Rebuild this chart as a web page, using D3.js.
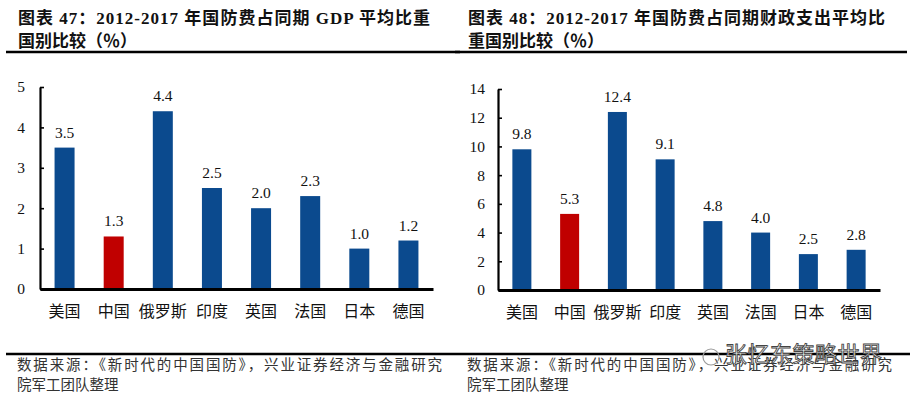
<!DOCTYPE html>
<html>
<head>
<meta charset="utf-8">
<script src="https://cdn.jsdelivr.net/npm/d3@7"></script>
<style>
html,body{margin:0;padding:0;background:#fff;}
svg{display:block;}
</style>
</head>
<body>
<svg id="c" width="915" height="398"></svg>
<script>
const categories = ["美国","中国","俄罗斯","印度","英国","法国","日本","德国"];
const gdpShare = [3.5,1.3,4.4,2.5,2.0,2.3,1.0,1.2];
const fiscalShare = [9.8,5.3,12.4,9.1,4.8,4.0,2.5,2.8];
const gdpTicks = [0,1,2,3,4,5];
const fiscalTicks = [0,2,4,6,8,10,12,14];
const highlight = "中国";
const title1 = ["图表 47：2012-2017 年国防费占同期 GDP 平均比重","国别比较（％）"];
const title2 = ["图表 48：2012-2017 年国防费占同期财政支出平均比","重国别比较（％）"];
const source = ["数据来源：《新时代的中国国防》，兴业证券经济与金融研究","院军工团队整理"];
const watermark = "张忆东策略世界";

const BLUE = "#0b4a8e", RED = "#c00000";
const svg = d3.select("#c");

function panel(opt){
  const g = svg.append("g");
  opt.title.forEach((t,i)=>{
    const tx = g.append("text").attr("x",opt.tx).attr("y",i===0?24:47)
      .attr("font-family","'Liberation Serif','Noto Sans CJK SC',serif")
      .attr("font-weight","bold").attr("font-size",17).attr("fill","#111").text(t);
    if(i===0) tx.attr("textLength",opt.tlen).attr("lengthAdjust","spacing");
  });
  g.append("line").attr("x1",opt.r0).attr("x2",opt.r1).attr("y1",52).attr("y2",52)
    .attr("stroke","#000").attr("stroke-width",2.5);

  const x = d3.scaleBand().domain(categories).range([opt.ax0,opt.ax1]).paddingInner(0.6).paddingOuter(0.3);
  const y = d3.scaleLinear().domain(opt.domain).range([opt.y0,opt.y1]);

  g.selectAll("rect.bar").data(opt.values).enter().append("rect")
    .attr("x",(d,i)=>x(categories[i])+x.bandwidth()/2-opt.bw/2)
    .attr("width",opt.bw)
    .attr("y",d=>y(d)).attr("height",d=>y(0)-y(d))
    .attr("fill",(d,i)=>categories[i]===highlight?RED:BLUE);

  g.selectAll("text.val").data(opt.values).enter().append("text")
    .attr("x",(d,i)=>x(categories[i])+x.bandwidth()/2)
    .attr("y",d=>y(d)-10)
    .attr("text-anchor","middle")
    .attr("font-family","'Liberation Serif',serif").attr("font-size",15.5).attr("fill","#111")
    .text(d=>d.toFixed(1));

  const ya = d3.axisLeft(y).tickValues(opt.ticks).tickSizeInner(-4).tickSizeOuter(0).tickPadding(opt.tp).tickFormat(d3.format("d"));
  const yg = g.append("g").attr("transform",`translate(${opt.ax0},0)`).call(ya);
  yg.select(".domain").attr("stroke","#000").attr("stroke-width",2.2);
  yg.selectAll(".tick line").attr("stroke","#000").attr("stroke-width",1.6);
  yg.selectAll(".tick text").attr("font-family","'Liberation Serif',serif").attr("font-size",15.5).attr("fill","#111");

  const xa = d3.axisBottom(x).tickSize(0).tickPadding(17);
  const xg = g.append("g").attr("transform",`translate(0,${opt.y0})`).call(xa);
  xg.select(".domain").attr("stroke","#000").attr("stroke-width",2.8);
  xg.selectAll(".tick text").attr("font-family","'Noto Sans CJK SC',sans-serif").attr("font-size",16).attr("fill","#111");

  source.forEach((t,i)=>{
    const st = g.append("text").attr("x",opt.tx-1).attr("y",i===0?370:390)
      .attr("font-family","'Noto Sans CJK SC',sans-serif").attr("font-size",14.5)
      .attr("fill","#333").text(t);
    if(i===0) st.attr("textLength",425).attr("lengthAdjust","spacing");
  });
}

panel({tx:18,tlen:412,title:title1,r0:6,r1:460,ax0:40,ax1:433,y0:289,y1:87,domain:[0,5],
       values:gdpShare,ticks:gdpTicks,bw:20,tp:15});
panel({tx:468,tlen:417,title:title2,r0:455,r1:907,ax0:498,ax1:880,y0:290,y1:89,domain:[0,14],
       values:fiscalShare,ticks:fiscalTicks,bw:19,tp:13});

svg.append("line").attr("x1",6).attr("x2",910).attr("y1",354).attr("y2",354)
  .attr("stroke","#000").attr("stroke-width",2.5);

const wm = svg.append("g");
wm.append("circle").attr("cx",711).attr("cy",357).attr("r",8).attr("fill","none").attr("stroke","#999").attr("stroke-width",1.2);
wm.append("text").attr("x",725).attr("y",362).attr("font-family","'Noto Sans CJK SC',sans-serif")
  .attr("font-size",22).attr("fill","#fff").attr("stroke","#444").attr("stroke-width",0.9)
  .attr("textLength",157).attr("lengthAdjust","spacing").text(watermark);
</script>
</body>
</html>
